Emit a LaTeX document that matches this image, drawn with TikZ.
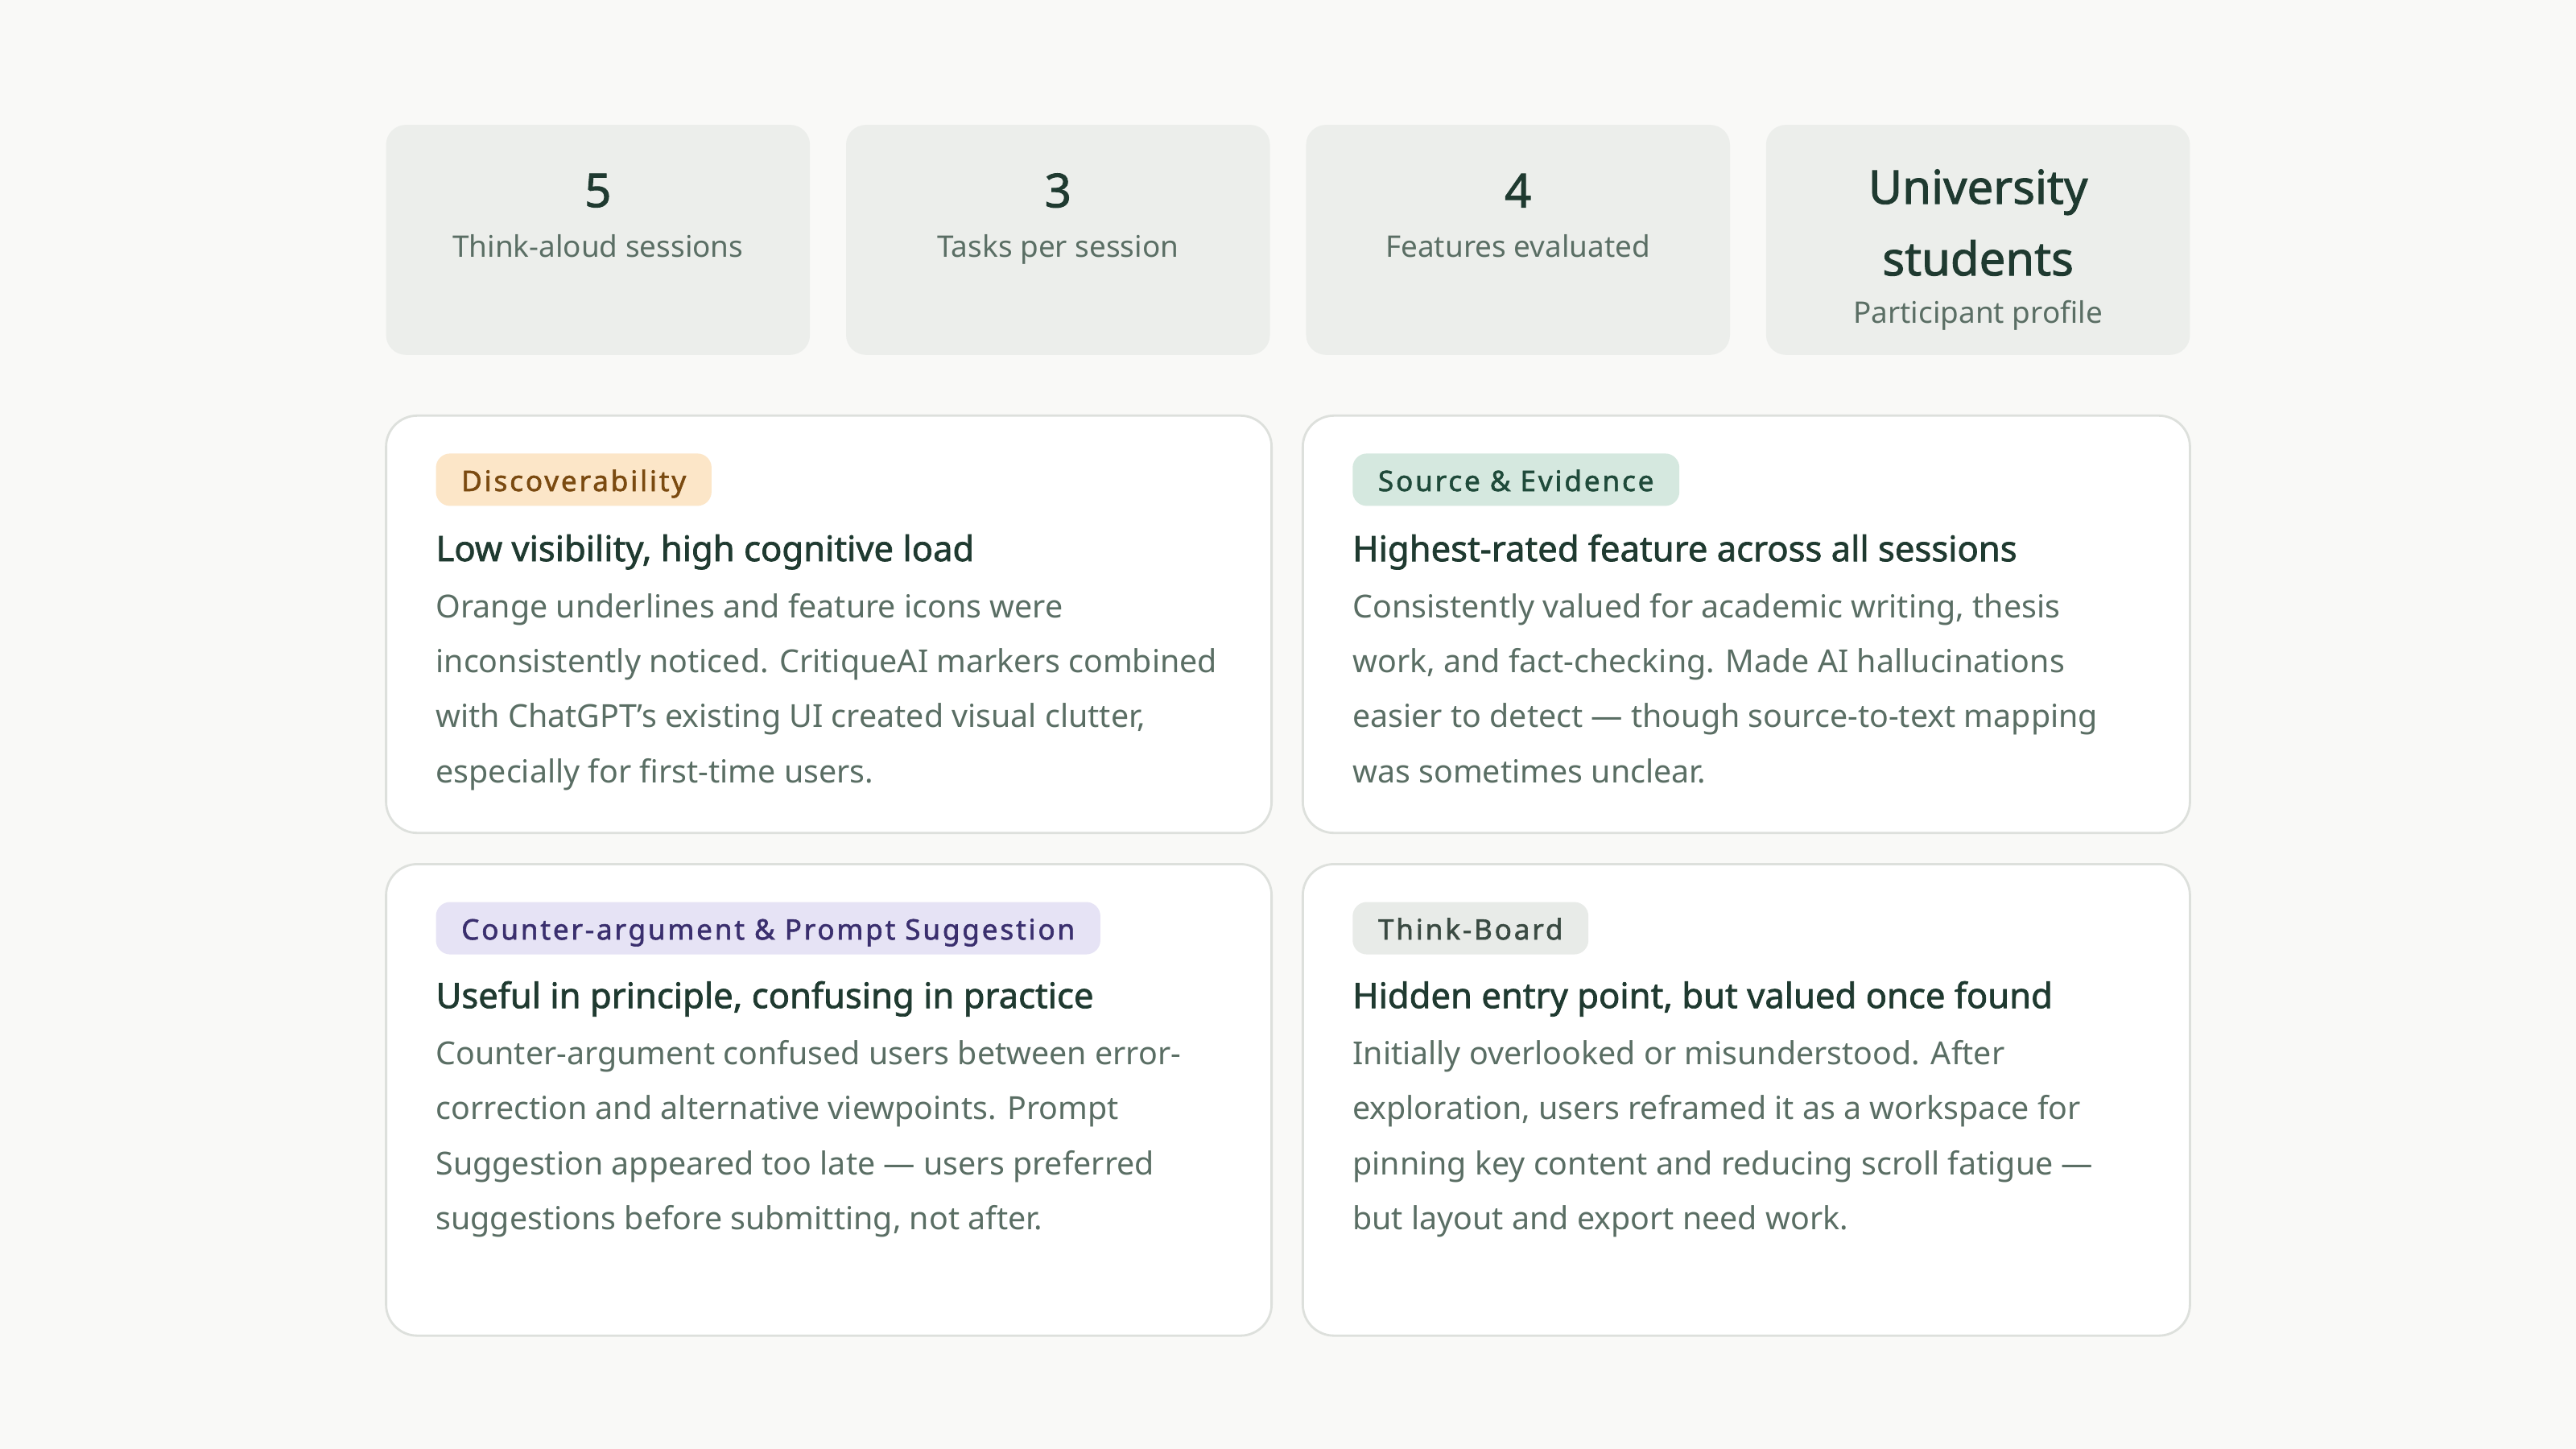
\documentclass[tikz,border=0pt]{standalone}
\usepackage{fontspec}
\setmainfont{Noto Sans}[BoldFont={Noto Sans}, BoldFeatures={FakeBold=1.6}]
\definecolor{bgc}{HTML}{F9F9F7}
\definecolor{statc}{HTML}{ECEEEB}
\definecolor{cardline}{HTML}{DDE0DC}
\definecolor{titlec}{HTML}{1F3A30}
\definecolor{bodyc}{HTML}{5A6E64}
\definecolor{orfill}{HTML}{FCE6C8}\definecolor{ortext}{HTML}{7A4A10}
\definecolor{grfill}{HTML}{D5E8DF}\definecolor{grtext}{HTML}{1F4A3A}
\definecolor{pufill}{HTML}{E6E3F5}\definecolor{putext}{HTML}{3A2F6E}
\definecolor{gyfill}{HTML}{E8EBE8}\definecolor{gytext}{HTML}{3A4A42}
\tikzset{
  statbox/.style={fill=statc, rounded corners=7pt},
  cardbox/.style={fill=white, draw=cardline, line width=0.8pt, rounded corners=11pt},
  bignum/.style={text=titlec, font=\fontsize{16.5}{20}\selectfont\bfseries},
  statlbl/.style={text=bodyc, text height=1.5ex, text depth=0.3ex, font=\fontsize{10.5}{13}\selectfont},
  badge/.style={anchor=west, rounded corners=5pt, inner xsep=9pt, text height=1.6ex, text depth=0.1ex, minimum height=18.5pt, font=\fontsize{10}{12}\selectfont\bfseries\addfontfeatures{LetterSpace=8}},
  cardtitle/.style={anchor=west, inner sep=0pt, text=titlec, font=\fontsize{12.4}{15}\selectfont\bfseries},
  cardbody/.style={anchor=north west, inner sep=0pt, align=left, text=bodyc, font=\fontsize{11.2}{19.4}\selectfont}
}
\begin{document}
\begin{tikzpicture}[x=0.020408cm, y=-0.020408cm]
  \fill[bgc] (0,0) rectangle (1568,882);
  % stat boxes
  \fill[statbox] (235,76) rectangle (493,216);
  \fill[statbox] (515,76) rectangle (773,216);
  \fill[statbox] (795,76) rectangle (1053,216);
  \fill[statbox] (1075,76) rectangle (1333,216);
  \node[bignum] (n1) at (364,116) {5};
  \node[statlbl] (l1) at (364,151) {Think-aloud sessions};
  \node[bignum] (n2) at (644,116) {3};
  \node[statlbl] (l2) at (644,151) {Tasks per session};
  \node[bignum] (n3) at (924,116) {4};
  \node[statlbl] (l3) at (924,151) {Features evaluated};
  \node[bignum] (n4a) at (1204,117) {University};
  \node[bignum] (n4b) at (1204,157) {students};
  \node[statlbl] (l4) at (1204,191) {Participant profile};

  % cards
  \draw[cardbox] (235,253) rectangle (774,507);
  \draw[cardbox] (793,253) rectangle (1333,507);
  \draw[cardbox] (235,526) rectangle (774,813);
  \draw[cardbox] (793,526) rectangle (1333,813);

  % card 1
  \node[badge, fill=orfill, text=ortext] (b1) at (265,292) {Discoverability};
  \node[cardtitle] (t1) at (265,336) {Low visibility, high cognitive load};
  \node[cardbody] (d1) at (265,361) {Orange underlines and feature icons were\\inconsistently noticed. CritiqueAI markers combined\\with ChatGPT's existing UI created visual clutter,\\especially for first-time users.};
  % card 2
  \node[badge, fill=grfill, text=grtext] (b2) at (823,292) {Source \& Evidence};
  \node[cardtitle] (t2) at (823,336) {Highest-rated feature across all sessions};
  \node[cardbody] (d2) at (823,361) {Consistently valued for academic writing, thesis\\work, and fact-checking. Made AI hallucinations\\easier to detect — though source-to-text mapping\\was sometimes unclear.};
  % card 3
  \node[badge, fill=pufill, text=putext] (b3) at (265,565) {Counter-argument \& Prompt Suggestion};
  \node[cardtitle] (t3) at (265,608) {Useful in principle, confusing in practice};
  \node[cardbody] (d3) at (265,633) {Counter-argument confused users between error-\\correction and alternative viewpoints. Prompt\\Suggestion appeared too late — users preferred\\suggestions before submitting, not after.};
  % card 4
  \node[badge, fill=gyfill, text=gytext] (b4) at (823,565) {Think-Board};
  \node[cardtitle] (t4) at (823,608) {Hidden entry point, but valued once found};
  \node[cardbody] (d4) at (823,633) {Initially overlooked or misunderstood. After\\exploration, users reframed it as a workspace for\\pinning key content and reducing scroll fatigue —\\but layout and export need work.};
\end{tikzpicture}
\end{document}
